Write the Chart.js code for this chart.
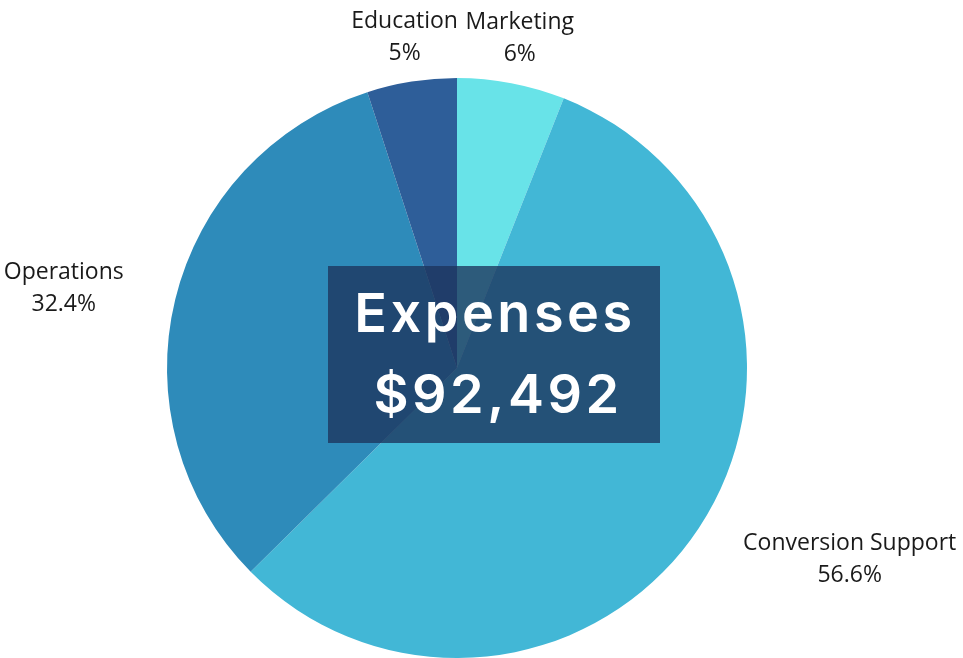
<!DOCTYPE html>
<html>
<head>
<meta charset="utf-8">
<script src="https://cdn.jsdelivr.net/npm/chart.js@4"></script>
<style>
  html, body { margin: 0; padding: 0; background: #fff; }
  #wrap { width: 963px; height: 658px; }
</style>
</head>
<body>
<div id="wrap"><canvas id="grafico"></canvas></div>
<script>
const categorias = ["Marketing", "Conversion Support", "Operations", "Education"];
const valores = [6, 56.6, 32.4, 5];
const rotulos = ["6%", "56.6%", "32.4%", "5%"];
const cores = ["#68E3E8", "#42B7D6", "#2E8BBA", "#2E5E99"];
const titulo = "Expenses";
const total = "$92,492";

// labels outside the slices, each block centered
const rotulosPlugin = {
  id: "rotulos",
  afterDatasetsDraw(chart) {
    const ctx = chart.ctx;
    const arcs = chart.getDatasetMeta(0).data;
    ctx.save();
    ctx.font = "23px 'Open Sans'";
    ctx.fillStyle = "#1a1a1a";
    ctx.textBaseline = "middle";
    ctx.textAlign = "center";
    arcs.forEach((arc, i) => {
      const mid = (arc.startAngle + arc.endAngle) / 2;
      const s = Math.cos(mid);
      const lado = Math.abs(s) > 0.8;
      const r = arc.outerRadius + (lado ? 53 : 45);
      let x = arc.x + Math.cos(mid) * r;
      const y = arc.y + Math.sin(mid) * r + (lado ? 2 : 0);
      const w = Math.max(ctx.measureText(categorias[i]).width, ctx.measureText(rotulos[i]).width);
      if (s > 0.8) x += w / 2;
      else if (s < -0.8) x -= w / 2;
      ctx.fillText(categorias[i], x, y - 16);
      ctx.fillText(rotulos[i], x, y + 16);
    });
    ctx.restore();
  }
};

// dark box with the total
const caixaPlugin = {
  id: "caixa",
  afterDraw(chart) {
    const ctx = chart.ctx;
    ctx.save();
    ctx.fillStyle = "rgba(28,52,92,0.78)";
    ctx.fillRect(328, 266, 332, 177);
    ctx.fillStyle = "#fff";
    ctx.textAlign = "center";
    ctx.textBaseline = "alphabetic";
    ctx.font = "600 54px Inter";
    ctx.letterSpacing = "3.5px";
    ctx.fillText(titulo, 495, 332);
    ctx.fillText(total, 498, 413);
    ctx.restore();
  }
};

new Chart(document.getElementById("grafico"), {
  type: "pie",
  data: {
    labels: categorias,
    datasets: [{
      data: valores,
      backgroundColor: cores,
      borderWidth: 0
    }]
  },
  options: {
    responsive: true,
    maintainAspectRatio: false,
    animation: false,
    layout: { padding: { left: 167, right: 216, top: 78, bottom: 0 } },
    plugins: {
      legend: { display: false },
      tooltip: { enabled: false }
    }
  },
  plugins: [rotulosPlugin, caixaPlugin]
});
</script>
</body>
</html>
